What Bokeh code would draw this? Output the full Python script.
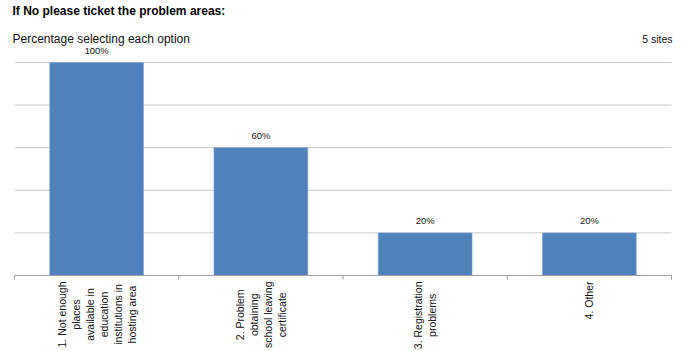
import math
from bokeh.plotting import figure
from bokeh.models import ColumnDataSource, Range1d, Label
from bokeh.embed import file_html
from bokeh.resources import INLINE
from bokeh.core.properties import value

categories = [
    "1. Not enough\nplaces\navailable in\neducation\ninstitutions in\nhosting area",
    "2. Problem\nobtaining\nschool leaving\ncertificate",
    "3. Registration\nproblems",
    "4. Other",
]
percentages = [100, 60, 20, 20]
pct_labels = ["100%", "60%", "20%", "20%"]
y_ticks = [0, 20, 40, 60, 80, 100]
title_text = "If No please ticket the problem areas:"
subtitle_text = "Percentage selecting each option"
sites_text = "5 sites"

# ---- layout (pixels on the canvas) ----
W, H = 684, 349
PLOT_L, PLOT_R, PLOT_T, PLOT_B = 14, 671, 62, 275
FONT = "Liberation Sans"
CAT_FONT_PX = 10.5
STANDOFF = 6

# approximate Arial/Liberation Sans advance widths (per 1000 em) for text length estimation
_W = {" ": 278, ".": 278, "i": 222, "l": 222, "j": 222, "t": 278, "f": 278, "r": 333,
      "c": 500, "s": 500, "v": 500, "k": 500, "y": 500, "x": 500, "z": 500, "m": 833,
      "w": 722, "N": 722, "R": 722, "O": 778, "P": 667, "A": 667}


def text_len(s, px):
    return sum(_W.get(ch, 556) for ch in s) * px / 1000.0


n = len(categories)
ymax = max(y_ticks)
px_per_x = (PLOT_R - PLOT_L) / n
px_per_y = (PLOT_B - PLOT_T) / ymax
x_range = Range1d(-PLOT_L / px_per_x, (W - PLOT_L) / px_per_x)
y_range = Range1d(-(H - PLOT_B) / px_per_y, PLOT_B / px_per_y)

centers = [i + 0.5 for i in range(n)]
cat_offsets = [STANDOFF + max(text_len(l, CAT_FONT_PX) for l in c.split("\n")) / 2.0
               for c in categories]

bars = ColumnDataSource(dict(x=centers, top=percentages, lab=pct_labels,
                             cat=categories, zero=[0] * n, yoff=cat_offsets))

p = figure(width=W, height=H, output_backend="svg", toolbar_location=None,
           x_range=x_range, y_range=y_range,
           min_border_left=0, min_border_right=0, min_border_top=0, min_border_bottom=0)
p.outline_line_color = None
p.background_fill_color = "white"
p.border_fill_color = "white"
p.xaxis.visible = False
p.yaxis.visible = False
p.grid.visible = False

# horizontal gridlines (above zero) and the category axis line
grid_y = [t for t in y_ticks if t > 0]
p.segment(x0=[0] * len(grid_y), x1=[n] * len(grid_y), y0=grid_y, y1=grid_y,
          line_color="#c8c8c8", line_width=1)

p.vbar(x="x", top="top", bottom=0, width=0.571, source=bars,
       fill_color="#4f81bd", line_color="#7da0d0", line_width=0.6)

p.segment(x0=[0], x1=[n], y0=[0], y1=[0], line_color="#a0a0a0", line_width=1)
p.ray(x=list(range(n + 1)), y=[0] * (n + 1), length=4, length_units="screen",
      angle=-math.pi / 2, line_color="#a0a0a0", line_width=1)

# value labels above bars
p.text(x="x", y="top", text="lab", source=bars, text_align="center",
       text_baseline="bottom", y_offset=-7, text_font=value(FONT),
       text_font_size="9.4px", text_color="#111111")

# rotated category labels under the axis
p.text(x="x", y="zero", text="cat", source=bars, text_align="center",
       text_baseline="middle", y_offset="yoff", angle=math.pi / 2,
       text_font=value(FONT), text_font_size=f"{CAT_FONT_PX}px",
       text_line_height=1.17, text_color="#111111")

# titles
p.add_layout(Label(x=12, y=H - 10, x_units="screen", y_units="screen",
                   text=title_text, text_font=FONT, text_font_size="12px",
                   text_font_style="bold", text_color="#000000",
                   text_baseline="middle"))
p.add_layout(Label(x=12, y=H - 38, x_units="screen", y_units="screen",
                   text=subtitle_text, text_font=FONT, text_font_size="12px",
                   text_color="#111111", text_baseline="middle"))
p.add_layout(Label(x=672, y=H - 38, x_units="screen", y_units="screen",
                   text=sites_text, text_font=FONT, text_font_size="10.5px",
                   text_color="#111111", text_baseline="middle", text_align="right"))

open("out.html", "w").write(file_html(p, INLINE))
